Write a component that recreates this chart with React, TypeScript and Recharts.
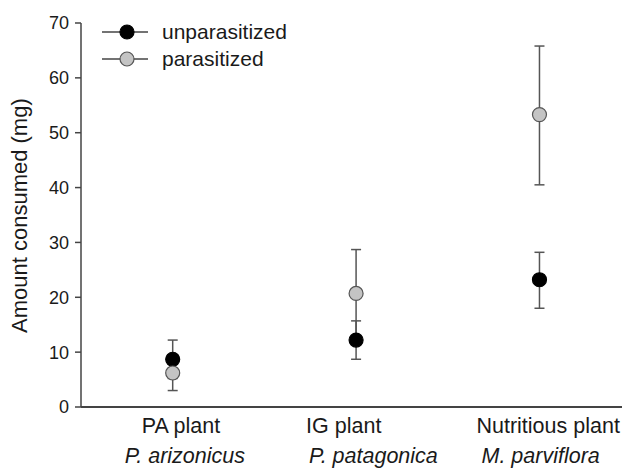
import React from 'react';
import { ScatterChart, Scatter, XAxis, YAxis, ErrorBar, Legend } from 'recharts';

const categories = ['PA plant', 'IG plant', 'Nutritious plant'];
const species = ['P. arizonicus', 'P. patagonica', 'M. parviflora'];
const unparasitizedMean = [8.7, 12.2, 23.2];
const unparasitizedErr = [[3.5, 3.5], [3.5, 3.5], [5.2, 5.0]];
const parasitizedMean = [6.2, 20.7, 53.3];
const parasitizedErr = [[3.2, 3.2], [8.0, 8.0], [12.8, 12.5]];
const yTicks = [0, 10, 20, 30, 40, 50, 60, 70];

const unparData = categories.map((c, i) => ({ x: i + 1, name: c, y: unparasitizedMean[i], err: unparasitizedErr[i] }));
const parData = categories.map((c, i) => ({ x: i + 1, name: c, y: parasitizedMean[i], err: parasitizedErr[i] }));

const FONT = '"Liberation Sans", Arial, sans-serif';
const TEXT = '#1a1a1a';
const AXIS = '#444';

// label start offsets relative to tick x (layout only)
const line1Off = [-31, -50, -63];
const line2Off = [-48, -47, -58];

const XTick = (props: any) => {
  const { x, y, payload } = props;
  const i = Math.round(payload.value) - 1;
  if (i < 0 || i > 2) return null;
  return (
    <g>
      <text x={x + line1Off[i]} y={y + 18} textAnchor="start" fontSize={21.5} fontFamily={FONT} fill={TEXT}>
        {categories[i]}
      </text>
      <text x={x + line2Off[i]} y={y + 48} textAnchor="start" fontSize={21.5} fontStyle="italic" fontFamily={FONT} fill={TEXT}>
        {species[i]}
      </text>
    </g>
  );
};

const dot = (fill: string, stroke: string) => (props: any) => (
  <circle cx={props.cx} cy={props.cy} r={7} fill={fill} stroke={stroke} strokeWidth={1.2} />
);

const LegendContent = () => {
  const items = [
    { label: 'unparasitized', fill: '#000', stroke: '#000' },
    { label: 'parasitized', fill: '#c4c4c4', stroke: '#555' },
  ];
  return (
    <svg width={260} height={64} style={{ overflow: 'visible', display: 'block' }}>
      {items.map((it, i) => {
        const cy = 12 + i * 27;
        return (
          <g key={it.label}>
            <line x1={2} x2={48} y1={cy} y2={cy} stroke={AXIS} strokeWidth={1.5} />
            <circle cx={27} cy={cy} r={7} fill={it.fill} stroke={it.stroke} strokeWidth={1.2} />
            <text x={62} y={cy + 7} fontSize={21} fontFamily={FONT} fill={TEXT}>
              {it.label}
            </text>
          </g>
        );
      })}
    </svg>
  );
};

export default function App() {
  return (
    <div style={{ position: 'absolute', left: 0, top: 0, background: '#fff' }}>
      <ScatterChart width={625} height={469} margin={{ top: 23, right: 3, bottom: 0, left: 0 }}>
        <XAxis
          type="number"
          dataKey="x"
          domain={[0.5, 3.45]}
          ticks={[1, 2, 3]}
          allowDataOverflow
          tickLine={false}
          tick={<XTick />}
          height={62}
          stroke={AXIS}
          strokeWidth={2}
          interval={0}
        />
        <YAxis
          type="number"
          dataKey="y"
          domain={[0, 70]}
          ticks={yTicks}
          width={81}
          tickSize={6}
          tickMargin={6}
          stroke={AXIS}
          strokeWidth={1.5}
          tick={{ fontSize: 18, fontFamily: FONT, fill: TEXT }}
          label={{
            value: 'Amount consumed (mg)',
            angle: -90,
            position: 'insideLeft',
            dx: 14,
            dy: 118,
            style: { fontSize: 22, fontFamily: FONT, fill: TEXT },
          }}
        />
        <Legend
          layout="vertical"
          align="center"
          verticalAlign="middle"
          content={<LegendContent />}
          wrapperStyle={{ position: 'absolute', left: 100, top: 20, width: 260, height: 64 }}
        />
        <Scatter name="unparasitized" data={unparData} isAnimationActive={false} shape={dot('#000', '#000')}>
          <ErrorBar dataKey="err" direction="y" width={5} stroke="#555" strokeWidth={1.5} />
        </Scatter>
        <Scatter name="parasitized" data={parData} isAnimationActive={false} shape={dot('#c4c4c4', '#555')}>
          <ErrorBar dataKey="err" direction="y" width={5} stroke="#555" strokeWidth={1.5} />
        </Scatter>
      </ScatterChart>
    </div>
  );
}
